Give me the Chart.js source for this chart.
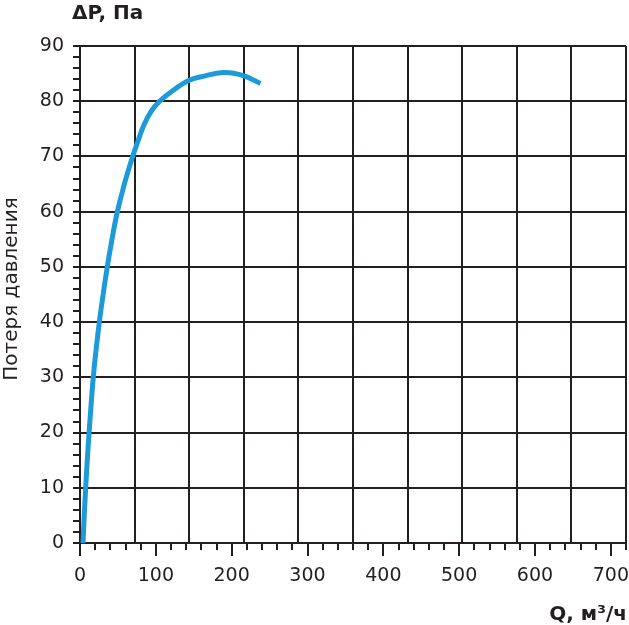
<!DOCTYPE html>
<html>
<head>
<meta charset="utf-8">
<script src="https://cdn.jsdelivr.net/npm/chart.js@4/dist/chart.umd.min.js"></script>
<style>
html,body{margin:0;padding:0;background:#fff;}
canvas{display:block;}
</style>
</head>
<body>
<canvas id="c" width="629" height="625"></canvas>
<script>
// Curve: flow Q (m3/h) vs pressure loss ΔP (Pa)
const flowQ = [4, 5.6, 7.5, 9.6, 12, 14.6, 17.5, 21.2, 25.5, 30.5, 36, 42.2, 49.3, 58.5, 69.5, 77, 84, 94, 105, 123, 144, 165, 189, 205, 218, 228, 238];
const pressureP = [0, 5, 10, 15, 20, 25, 30, 35, 40, 45, 50, 55, 60, 65, 70, 73, 75.6, 78.2, 80, 82, 83.8, 84.6, 85.2, 85, 84.5, 83.9, 83.2];

// Axis ticks
const qTickLabels = [0, 100, 200, 300, 400, 500, 600, 700];
const qMinorTicks = [0, 20, 40, 60, 80, 100, 120, 140, 160, 180, 200, 220, 240, 260, 280, 300, 320, 340, 360, 380, 400, 420, 440, 460, 480, 500, 520, 540, 560, 580, 600, 620, 640, 660, 680, 700, 720];
const qGridLines = [0, 72, 144, 216, 288, 360, 432, 504, 576, 648, 720];
const pTicks = [0, 2, 4, 6, 8, 10, 12, 14, 16, 18, 20, 22, 24, 26, 28, 30, 32, 34, 36, 38, 40, 42, 44, 46, 48, 50, 52, 54, 56, 58, 60, 62, 64, 66, 68, 70, 72, 74, 76, 78, 80, 82, 84, 86, 88, 90];
const pTickLabels = [0, 10, 20, 30, 40, 50, 60, 70, 80, 90];

const yTitle = 'Потеря давления';
const topTitle = 'ΔP, Па';
const xTitle = 'Q, м³/ч';

const INK = '#231f20';
const CURVE = '#1d9bd8';
const FONT = '"DejaVu Sans", sans-serif';

const setTicks = (vals) => (scale) => { scale.ticks = vals.map(v => ({ value: v })); };
const noPad = (s) => { s.paddingLeft = 0; s.paddingRight = 0; s.paddingTop = 0; s.paddingBottom = 0; };

const textPlugin = {
  id: 'texts',
  afterDraw(chart) {
    const ctx = chart.ctx;
    ctx.save();
    ctx.fillStyle = INK;
    ctx.font = 'bold 20px ' + FONT;
    ctx.textAlign = 'left';
    ctx.textBaseline = 'alphabetic';
    ctx.fillText(topTitle, 72, 19);
    ctx.textAlign = 'right';
    ctx.fillText(xTitle, 627, 620);
    ctx.font = '20px ' + FONT;
    ctx.translate(17, 289);
    ctx.rotate(-Math.PI / 2);
    ctx.textAlign = 'center';
    ctx.fillText(yTitle, 0, 0);
    ctx.restore();
  }
};

new Chart(document.getElementById('c'), {
  type: 'line',
  data: {
    datasets: [{
      data: flowQ.map((q, i) => ({ x: q, y: pressureP[i] })),
      borderColor: CURVE,
      borderWidth: 5,
      pointRadius: 0,
      fill: false,
      tension: 0.4,
      xAxisID: 'x',
      yAxisID: 'y'
    }]
  },
  options: {
    responsive: false,
    animation: false,
    devicePixelRatio: 1,
    layout: { padding: { top: 46, right: 3, left: 0, bottom: 0 } },
    plugins: { legend: { display: false }, tooltip: { enabled: false }, title: { display: false } },
    scales: {
      x: {
        type: 'linear', position: 'bottom', min: 0, max: 720, weight: 1,
        afterBuildTicks: setTicks(qTickLabels),
        afterFit: (s) => { s.height = 82; noPad(s); },
        grid: { drawOnChartArea: false, drawTicks: true, tickLength: 13, color: INK, tickColor: INK, lineWidth: 2 },
        border: { display: false },
        ticks: { autoSkip: false, maxRotation: 0, padding: 9, color: INK, font: { family: FONT, size: 19 } }
      },
      xm: {
        type: 'linear', position: 'bottom', min: 0, max: 720, weight: 0,
        afterBuildTicks: setTicks(qMinorTicks),
        afterFit: (s) => { s.height = 0; noPad(s); },
        grid: { drawOnChartArea: false, drawTicks: true, tickLength: 7, color: INK, tickColor: INK, lineWidth: 2 },
        border: { display: false },
        ticks: { display: false, autoSkip: false }
      },
      xg: {
        type: 'linear', position: 'bottom', min: 0, max: 720, weight: 0,
        afterBuildTicks: setTicks(qGridLines),
        afterFit: (s) => { s.height = 0; noPad(s); },
        grid: { drawOnChartArea: true, drawTicks: false, color: INK, lineWidth: 2 },
        border: { display: false },
        ticks: { display: false, autoSkip: false }
      },
      y: {
        type: 'linear', position: 'left', min: 0, max: 90,
        afterBuildTicks: setTicks(pTicks),
        afterFit: (s) => { s.width = 80; },
        grid: {
          drawOnChartArea: true, drawTicks: true, tickLength: 7, lineWidth: 2,
          color: (c) => (c.tick && pTickLabels.includes(c.tick.value)) ? INK : 'rgba(0,0,0,0)',
          tickColor: INK
        },
        border: { display: false },
        ticks: {
          autoSkip: false, padding: 9, color: INK, font: { family: FONT, size: 19 },
          callback: (v) => pTickLabels.includes(v) ? String(v) : ''
        }
      }
    }
  },
  plugins: [textPlugin]
});
</script>
</body>
</html>
